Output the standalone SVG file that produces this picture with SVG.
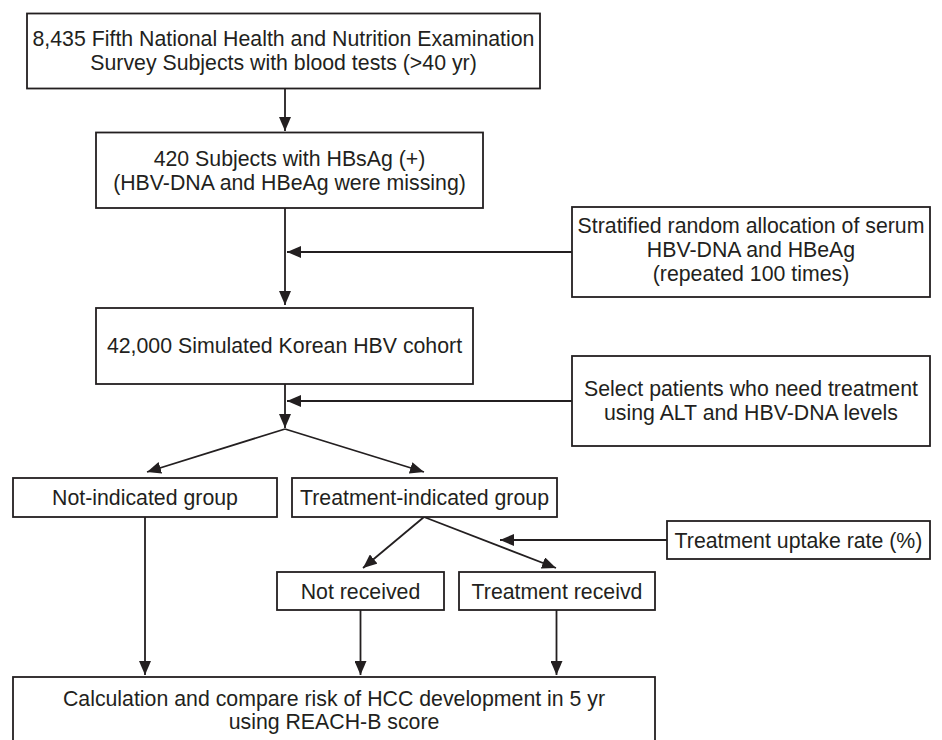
<svg xmlns="http://www.w3.org/2000/svg" width="942" height="740" viewBox="0 0 942 740">
<style>
.box{fill:#fff;stroke:#231f20;stroke-width:1.8}
.t{font-family:"Liberation Sans",Arial,sans-serif;font-size:21.3px;fill:#231f20;text-anchor:middle}
.c{fill:none;stroke:#231f20;stroke-width:1.8}
</style>
<defs>
<marker id="ah" viewBox="0 0 14 12" refX="14" refY="6" markerWidth="14" markerHeight="12" orient="auto" markerUnits="userSpaceOnUse">
<path d="M0,0 L14,6 L0,12 z" fill="#231f20"/>
</marker>
</defs>
<rect width="942" height="740" fill="#fff"/>
<g id="connectors">
<line class="c" x1="285" y1="88.5" x2="285" y2="131" marker-end="url(#ah)"/>
<line class="c" x1="285" y1="208" x2="285" y2="305" marker-end="url(#ah)"/>
<line class="c" x1="572" y1="252" x2="287" y2="252" marker-end="url(#ah)"/>
<line class="c" x1="285" y1="384" x2="285" y2="428" marker-end="url(#ah)"/>
<line class="c" x1="572" y1="401" x2="287" y2="401" marker-end="url(#ah)"/>
<line class="c" x1="285" y1="429" x2="147" y2="472" marker-end="url(#ah)"/>
<line class="c" x1="285" y1="429" x2="424" y2="472" marker-end="url(#ah)"/>
<line class="c" x1="424" y1="517" x2="363" y2="568" marker-end="url(#ah)"/>
<line class="c" x1="424" y1="517" x2="556" y2="568" marker-end="url(#ah)"/>
<line class="c" x1="667" y1="540" x2="500" y2="540" marker-end="url(#ah)"/>
<line class="c" x1="145" y1="517" x2="145" y2="675" marker-end="url(#ah)"/>
<line class="c" x1="360.5" y1="610" x2="360.5" y2="675" marker-end="url(#ah)"/>
<line class="c" x1="556.5" y1="610" x2="556.5" y2="675" marker-end="url(#ah)"/>
</g>
<g id="n1"><rect class="box" x="27" y="13.5" width="513" height="75"/>
<text class="t" x="283.5" y="45.5">8,435 Fifth National Health and Nutrition Examination</text>
<text class="t" x="283.5" y="69.5">Survey Subjects with blood tests (&gt;40 yr)</text></g>
<g id="n2"><rect class="box" x="96" y="132.5" width="387" height="75.5"/>
<text class="t" x="289.5" y="165.5">420 Subjects with HBsAg (+)</text>
<text class="t" x="289.5" y="189.5">(HBV-DNA and HBeAg were missing)</text></g>
<g id="n3"><rect class="box" x="572" y="207" width="358" height="90"/>
<text class="t" x="751" y="233">Stratified random allocation of serum</text>
<text class="t" x="751" y="257">HBV-DNA and HBeAg</text>
<text class="t" x="751" y="281">(repeated 100 times)</text></g>
<g id="n4"><rect class="box" x="96" y="308" width="377" height="76"/>
<text class="t" x="284.5" y="353">42,000 Simulated Korean HBV cohort</text></g>
<g id="n5"><rect class="box" x="572" y="356" width="358" height="90"/>
<text class="t" x="751" y="396">Select patients who need treatment</text>
<text class="t" x="751" y="420">using ALT and HBV-DNA levels</text></g>
<g id="n6"><rect class="box" x="13" y="478" width="264" height="39"/>
<text class="t" x="145" y="505">Not-indicated group</text></g>
<g id="n7"><rect class="box" x="292" y="478" width="265" height="39"/>
<text class="t" x="424.5" y="505">Treatment-indicated group</text></g>
<g id="n8"><rect class="box" x="667" y="521" width="263" height="38"/>
<text class="t" x="798.5" y="547.5">Treatment uptake rate (%)</text></g>
<g id="n9"><rect class="box" x="277" y="572" width="167" height="38"/>
<text class="t" x="360.5" y="598.5">Not received</text></g>
<g id="n10"><rect class="box" x="459" y="572" width="196" height="38"/>
<text class="t" x="557" y="598.5">Treatment receivd</text></g>
<g id="n11"><rect class="box" x="13" y="677" width="642" height="70"/>
<text class="t" x="334" y="706">Calculation and compare risk of HCC development in 5 yr</text>
<text class="t" x="334" y="729">using REACH-B score</text></g>
</svg>
